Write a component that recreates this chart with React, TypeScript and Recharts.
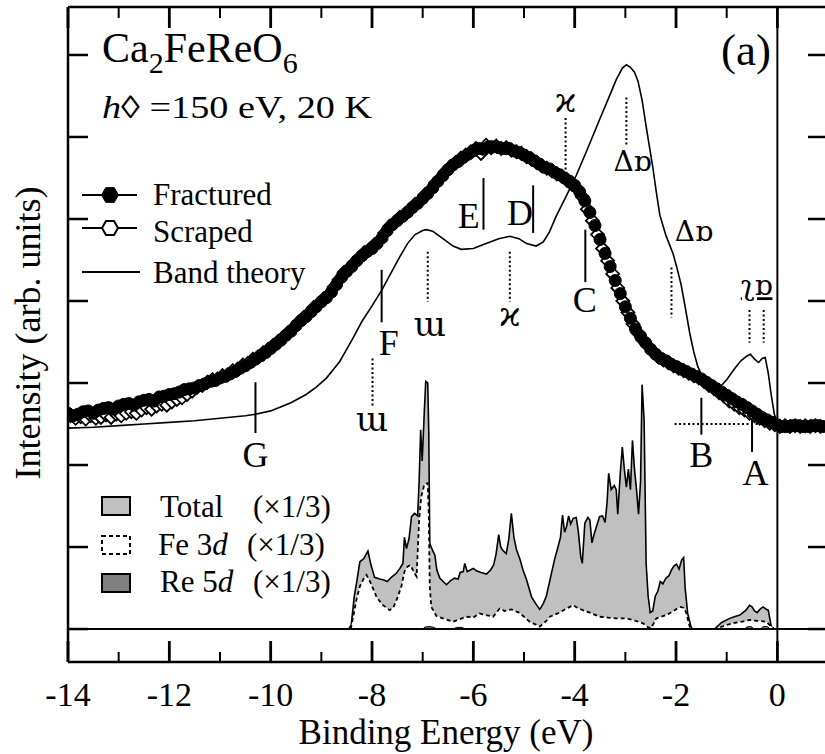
import React from "react";
import {
  ComposedChart,
  XAxis,
  YAxis,
  Line,
  Area,
  Scatter,
  ReferenceLine,
  ReferenceDot,
} from "recharts";

// ---------------- data ----------------
const xTickValues = [-14, -13, -12, -11, -10, -9, -8, -7, -6, -5, -4, -3, -2, -1, 0];
const yTickValues = [0, 1, 2, 3, 4, 5, 6, 7];

const fractured: [number, number][] = [
  [-14.0, 2.63], [-13.9, 2.6], [-13.8, 2.62], [-13.7, 2.65], [-13.6, 2.66], [-13.5, 2.63],
  [-13.4, 2.67], [-13.3, 2.69], [-13.2, 2.7], [-13.1, 2.68], [-13.0, 2.72], [-12.9, 2.74],
  [-12.8, 2.75], [-12.7, 2.73], [-12.6, 2.77], [-12.5, 2.79], [-12.4, 2.8], [-12.3, 2.78],
  [-12.2, 2.83], [-12.1, 2.84], [-12.0, 2.86], [-11.9, 2.87], [-11.8, 2.89], [-11.7, 2.92],
  [-11.6, 2.93], [-11.5, 2.94], [-11.4, 2.97], [-11.3, 2.99], [-11.2, 3.02], [-11.1, 3.03],
  [-11.0, 3.06], [-10.9, 3.08], [-10.8, 3.11], [-10.7, 3.14], [-10.6, 3.18], [-10.5, 3.21],
  [-10.4, 3.25], [-10.3, 3.29], [-10.2, 3.33], [-10.1, 3.37], [-10.0, 3.42], [-9.9, 3.47],
  [-9.8, 3.52], [-9.7, 3.58], [-9.6, 3.63], [-9.5, 3.7], [-9.4, 3.76], [-9.3, 3.81],
  [-9.2, 3.87], [-9.1, 3.93], [-9.0, 3.99], [-8.9, 4.04], [-8.8, 4.11], [-8.7, 4.2],
  [-8.6, 4.29], [-8.5, 4.36], [-8.4, 4.42], [-8.3, 4.49], [-8.2, 4.55], [-8.1, 4.6],
  [-8.0, 4.64], [-7.9, 4.7], [-7.8, 4.77], [-7.7, 4.86], [-7.6, 4.93], [-7.5, 4.98],
  [-7.4, 5.03], [-7.3, 5.08], [-7.2, 5.14], [-7.1, 5.19], [-7.0, 5.25], [-6.9, 5.31],
  [-6.8, 5.38], [-6.7, 5.46], [-6.6, 5.53], [-6.5, 5.6], [-6.4, 5.66], [-6.3, 5.7],
  [-6.2, 5.75], [-6.1, 5.79], [-6.0, 5.83], [-5.9, 5.86], [-5.8, 5.85], [-5.7, 5.88],
  [-5.6, 5.88], [-5.5, 5.87], [-5.4, 5.86], [-5.3, 5.86], [-5.2, 5.83], [-5.1, 5.81],
  [-5.0, 5.78], [-4.9, 5.75], [-4.8, 5.71], [-4.7, 5.67], [-4.6, 5.63], [-4.5, 5.61],
  [-4.4, 5.57], [-4.3, 5.54], [-4.2, 5.5], [-4.1, 5.46], [-4.0, 5.41], [-3.9, 5.33],
  [-3.8, 5.22], [-3.7, 5.08], [-3.6, 4.92], [-3.5, 4.75], [-3.4, 4.58], [-3.3, 4.42],
  [-3.2, 4.25], [-3.1, 4.09], [-3.0, 3.93], [-2.9, 3.79], [-2.8, 3.66], [-2.7, 3.57],
  [-2.6, 3.49], [-2.5, 3.41], [-2.4, 3.35], [-2.3, 3.3], [-2.2, 3.27], [-2.1, 3.23],
  [-2.0, 3.2], [-1.9, 3.17], [-1.8, 3.14], [-1.7, 3.11], [-1.6, 3.08], [-1.5, 3.05],
  [-1.4, 3.01], [-1.3, 2.97], [-1.2, 2.93], [-1.1, 2.89], [-1.0, 2.85], [-0.9, 2.81],
  [-0.8, 2.77], [-0.7, 2.74], [-0.6, 2.7], [-0.5, 2.66], [-0.4, 2.62], [-0.3, 2.58],
  [-0.2, 2.55], [-0.1, 2.52], [0.0, 2.49], [0.1, 2.47], [0.2, 2.47], [0.3, 2.48],
  [0.4, 2.48], [0.5, 2.47], [0.6, 2.47], [0.7, 2.48], [0.8, 2.48], [0.9, 2.47],
];

const scraped: [number, number][] = [
  [-13.95, 2.6], [-13.85, 2.57], [-13.75, 2.59], [-13.65, 2.56], [-13.55, 2.6], [-13.45, 2.57],
  [-13.35, 2.58], [-13.25, 2.61], [-13.15, 2.58], [-13.05, 2.62], [-12.95, 2.6], [-12.85, 2.63],
  [-12.75, 2.65], [-12.65, 2.63], [-12.55, 2.67], [-12.45, 2.7], [-12.35, 2.68], [-12.25, 2.72],
  [-12.15, 2.74], [-12.05, 2.73], [-11.95, 2.77], [-11.85, 2.8], [-11.75, 2.82], [-11.65, 2.86],
  [-11.55, 2.9], [-11.45, 2.95], [-11.35, 2.97], [-11.25, 3.01], [-11.15, 3.04], [-11.05, 3.05],
  [-10.95, 3.09], [-10.85, 3.1], [-10.75, 3.15], [-10.65, 3.17], [-10.55, 3.22], [-10.45, 3.24],
  [-10.35, 3.29], [-10.25, 3.32], [-10.15, 3.37], [-10.05, 3.41], [-9.95, 3.46], [-9.85, 3.51],
  [-9.75, 3.56], [-9.65, 3.62], [-9.55, 3.67], [-9.45, 3.74], [-9.35, 3.8], [-9.25, 3.85],
  [-9.15, 3.92], [-9.05, 3.97], [-8.95, 4.03], [-8.85, 4.08], [-8.75, 4.17], [-8.65, 4.26],
  [-8.55, 4.35], [-8.45, 4.4], [-8.35, 4.47], [-8.25, 4.53], [-8.15, 4.59], [-8.05, 4.63],
  [-7.95, 4.69], [-7.85, 4.74], [-7.75, 4.83], [-7.65, 4.91], [-7.55, 4.96], [-7.45, 5.02],
  [-7.35, 5.06], [-7.25, 5.12], [-7.15, 5.18], [-7.05, 5.22], [-6.95, 5.3], [-6.85, 5.35],
  [-6.75, 5.44], [-6.65, 5.5], [-6.55, 5.58], [-6.45, 5.64], [-6.35, 5.69], [-6.25, 5.74],
  [-6.15, 5.78], [-6.05, 5.82], [-5.95, 5.86], [-5.85, 5.8], [-5.75, 5.9], [-5.65, 5.87],
  [-5.55, 5.89], [-5.45, 5.86], [-5.35, 5.87], [-5.25, 5.84], [-5.15, 5.82], [-5.05, 5.8],
  [-4.95, 5.76], [-4.85, 5.73], [-4.75, 5.69], [-4.65, 5.65], [-4.55, 5.62], [-4.45, 5.59],
  [-4.35, 5.55], [-4.25, 5.52], [-4.15, 5.47], [-4.05, 5.42], [-3.95, 5.37], [-3.85, 5.27],
  [-3.75, 5.12], [-3.65, 4.98], [-3.55, 4.81], [-3.45, 4.64], [-3.35, 4.49], [-3.25, 4.33],
  [-3.15, 4.16], [-3.05, 4.0], [-2.95, 3.86], [-2.85, 3.72], [-2.75, 3.61], [-2.65, 3.52],
  [-2.55, 3.45], [-2.45, 3.38], [-2.35, 3.32], [-2.25, 3.28], [-2.15, 3.25], [-2.05, 3.21],
  [-1.95, 3.18], [-1.85, 3.15], [-1.75, 3.12], [-1.65, 3.09], [-1.55, 3.06], [-1.45, 3.02],
  [-1.35, 2.97], [-1.25, 2.93], [-1.15, 2.88], [-1.05, 2.84], [-0.95, 2.78], [-0.85, 2.74],
  [-0.75, 2.7], [-0.65, 2.67], [-0.55, 2.63], [-0.45, 2.6], [-0.35, 2.57], [-0.25, 2.54],
  [-0.15, 2.51], [-0.05, 2.49], [0.05, 2.47], [0.15, 2.48], [0.25, 2.47], [0.35, 2.48],
  [0.45, 2.47], [0.55, 2.48], [0.65, 2.47], [0.75, 2.48], [0.85, 2.47],
];

const bandTheory: [number, number][] = [
  [-14, 2.45], [-13.5, 2.46], [-13, 2.48], [-12.5, 2.5], [-12, 2.52], [-11.5, 2.54],
  [-11, 2.57], [-10.5, 2.6], [-10.3, 2.62], [-10, 2.66], [-9.6, 2.76], [-9.3, 2.86],
  [-9.1, 2.95], [-8.9, 3.06], [-8.64, 3.26], [-8.4, 3.52], [-8.2, 3.75], [-8.0, 3.94],
  [-7.81, 4.13], [-7.6, 4.37], [-7.45, 4.54], [-7.3, 4.7], [-7.15, 4.81], [-7.0, 4.86],
  [-6.93, 4.87], [-6.8, 4.85], [-6.6, 4.76], [-6.4, 4.67], [-6.24, 4.63], [-6.0, 4.64],
  [-5.8, 4.69], [-5.5, 4.76], [-5.28, 4.79], [-5.1, 4.76], [-4.95, 4.7], [-4.76, 4.67],
  [-4.62, 4.72], [-4.5, 4.84], [-4.36, 5.04], [-4.15, 5.3], [-3.97, 5.53], [-3.75, 5.85],
  [-3.51, 6.21], [-3.3, 6.52], [-3.18, 6.7], [-3.06, 6.84], [-2.98, 6.88], [-2.9, 6.85],
  [-2.82, 6.79], [-2.75, 6.68], [-2.67, 6.45], [-2.59, 6.13], [-2.53, 5.9], [-2.46, 5.64],
  [-2.39, 5.33], [-2.32, 5.05], [-2.2, 4.8], [-2.06, 4.58], [-1.98, 4.4], [-1.9, 4.2],
  [-1.82, 3.93], [-1.73, 3.61], [-1.65, 3.38], [-1.57, 3.2], [-1.45, 3.04], [-1.3, 2.95],
  [-1.15, 2.94], [-1.0, 3.04], [-0.85, 3.17], [-0.72, 3.27], [-0.6, 3.33], [-0.53, 3.35],
  [-0.45, 3.29], [-0.37, 3.25], [-0.3, 3.3], [-0.24, 3.31], [-0.18, 3.12], [-0.12, 2.85],
  [-0.06, 2.62], [0.0, 2.52], [0.2, 2.48], [0.5, 2.48], [0.94, 2.48],
];

const dosTotal: [number, number][] = [
  [-8.46, 0], [-8.41, 0.05], [-8.35, 0.4], [-8.3, 0.58], [-8.24, 0.82], [-8.16, 0.86],
  [-8.08, 0.95], [-8.02, 0.78], [-7.95, 0.63], [-7.85, 0.61], [-7.78, 0.6], [-7.7, 0.58],
  [-7.62, 0.63], [-7.52, 0.68], [-7.45, 0.74], [-7.39, 0.8], [-7.36, 1.12], [-7.32, 0.98],
  [-7.27, 1.1], [-7.22, 1.37], [-7.16, 1.41], [-7.1, 1.38], [-7.07, 1.8], [-7.04, 2.43],
  [-7.01, 2.05], [-6.97, 2.62], [-6.94, 3.02], [-6.9, 3.0], [-6.88, 2.4], [-6.86, 1.05],
  [-6.82, 0.98], [-6.76, 0.9], [-6.72, 0.72], [-6.66, 0.62], [-6.58, 0.57], [-6.53, 0.54],
  [-6.45, 0.59], [-6.37, 0.62], [-6.3, 0.61], [-6.26, 0.69], [-6.2, 0.7], [-6.17, 0.8],
  [-6.12, 0.7], [-6.06, 0.72], [-6.0, 0.74], [-5.94, 0.71], [-5.85, 0.69], [-5.74, 0.67],
  [-5.66, 0.72], [-5.6, 0.78], [-5.55, 0.92], [-5.5, 1.15], [-5.46, 1.0], [-5.42, 0.96],
  [-5.35, 0.92], [-5.3, 1.1], [-5.25, 1.41], [-5.2, 1.12], [-5.15, 0.97], [-5.08, 0.85],
  [-5.02, 0.72], [-4.95, 0.6], [-4.85, 0.39], [-4.76, 0.3], [-4.69, 0.24], [-4.62, 0.31],
  [-4.56, 0.4], [-4.48, 0.62], [-4.4, 0.84], [-4.33, 1.0], [-4.28, 1.12], [-4.24, 1.39],
  [-4.2, 1.18], [-4.16, 1.25], [-4.12, 1.38], [-4.08, 1.28], [-4.03, 1.35], [-3.97, 1.36],
  [-3.93, 1.2], [-3.88, 0.88], [-3.85, 0.8], [-3.8, 1.29], [-3.74, 1.36], [-3.7, 1.33],
  [-3.66, 1.05], [-3.62, 1.15], [-3.57, 1.25], [-3.51, 1.37], [-3.45, 1.38], [-3.4, 1.3],
  [-3.36, 1.55], [-3.33, 1.9], [-3.28, 1.7], [-3.22, 1.75], [-3.18, 1.7], [-3.15, 1.4],
  [-3.1, 1.9], [-3.06, 2.22], [-3.02, 1.95], [-2.98, 1.73], [-2.94, 1.95], [-2.9, 1.7],
  [-2.86, 2.3], [-2.82, 1.95], [-2.78, 1.7], [-2.74, 1.4], [-2.7, 1.8], [-2.67, 2.98],
  [-2.63, 2.55], [-2.59, 0.8], [-2.55, 0.4], [-2.51, 0.2], [-2.46, 0.22], [-2.41, 0.4],
  [-2.36, 0.46], [-2.31, 0.58], [-2.26, 0.55], [-2.2, 0.62], [-2.14, 0.65], [-2.09, 0.72],
  [-2.04, 0.77], [-1.99, 0.79], [-1.94, 0.73], [-1.89, 0.84], [-1.85, 0.87], [-1.82, 0.5],
  [-1.77, 0.19], [-1.71, 0.04], [-1.68, 0], [-1.24, 0], [-1.1, 0.08], [-0.94, 0.13],
  [-0.85, 0.15], [-0.74, 0.17], [-0.62, 0.23], [-0.55, 0.29], [-0.5, 0.27], [-0.45, 0.22],
  [-0.4, 0.2], [-0.33, 0.25], [-0.28, 0.27], [-0.22, 0.24], [-0.18, 0.23], [-0.12, 0.03],
  [-0.06, 0],
];

const dosFe3d: [number, number][] = [
  [-8.42, 0], [-8.38, 0.12], [-8.31, 0.35], [-8.24, 0.52], [-8.16, 0.62], [-8.11, 0.66],
  [-8.04, 0.58], [-7.97, 0.48], [-7.91, 0.39], [-7.8, 0.3], [-7.65, 0.23], [-7.58, 0.26],
  [-7.5, 0.38], [-7.42, 0.52], [-7.36, 0.7], [-7.3, 0.76], [-7.24, 0.78], [-7.18, 0.7],
  [-7.12, 0.64], [-7.07, 1.33], [-7.03, 1.61], [-6.97, 1.76], [-6.9, 1.78], [-6.88, 1.4],
  [-6.86, 0.52], [-6.83, 0.27], [-6.73, 0.16], [-6.6, 0.13], [-6.4, 0.09], [-6.14, 0.15],
  [-6.0, 0.14], [-5.88, 0.19], [-5.75, 0.17], [-5.61, 0.15], [-5.48, 0.25], [-5.38, 0.22],
  [-5.25, 0.24], [-5.1, 0.2], [-5.0, 0.15], [-4.89, 0.09], [-4.69, 0.03], [-4.56, 0.1],
  [-4.49, 0.15], [-4.3, 0.2], [-4.16, 0.25], [-4.03, 0.29], [-3.95, 0.26], [-3.84, 0.23],
  [-3.7, 0.2], [-3.51, 0.15], [-3.35, 0.14], [-3.18, 0.13], [-3.0, 0.13], [-2.85, 0.11],
  [-2.65, 0.07], [-2.55, 0.02], [-2.5, 0.01], [-2.45, 0.06], [-2.39, 0.13], [-2.19, 0.17],
  [-2.05, 0.22], [-1.93, 0.27], [-1.85, 0.26], [-1.8, 0.2], [-1.73, 0.03], [-1.7, 0],
  [-1.22, 0], [-1.05, 0.04], [-0.88, 0.07], [-0.7, 0.09], [-0.55, 0.11], [-0.4, 0.1],
  [-0.22, 0.09], [-0.12, 0.03], [-0.06, 0],
];

const dosRe5d: [number, number][] = [
  [-7.0, 0], [-6.95, 0.025], [-6.85, 0.03], [-6.78, 0.02], [-6.72, 0], [-6.4, 0],
  [-6.33, 0.02], [-6.22, 0.02], [-6.17, 0], [-0.65, 0], [-0.6, 0.025], [-0.52, 0.03],
  [-0.46, 0], [-0.33, 0], [-0.28, 0.03], [-0.2, 0.03], [-0.14, 0],
];

// feature labels and their solid marker lines
const featureNames = ["G", "F", "E", "D", "C", "B", "A"];
const featureLabelPos: [number, number][] = [
  [-10.3, 1.98], [-7.67, 3.34], [-6.09, 4.89], [-5.08, 4.93], [-3.8, 3.87], [-1.5, 1.98], [-0.43, 1.76],
];
const featureLines: [number, number, number][] = [
  [-10.3, 3.01, 2.39], [-7.81, 4.38, 3.74], [-5.8, 5.5, 4.87], [-4.82, 5.41, 4.83],
  [-3.79, 4.87, 4.23], [-1.5, 2.82, 2.37], [-0.5, 2.55, 2.16],
];

// theory peak markers (dotted)
const theoryMarkLines: [number, number, number][] = [
  [-7.99, 3.3, 2.7], [-6.9, 4.6, 3.99], [-5.28, 4.6, 3.99], [-4.18, 6.23, 5.6],
  [-2.98, 6.48, 5.9], [-2.09, 4.41, 3.8], [-0.55, 3.89, 3.49], [-0.27, 3.89, 3.49],
];
const theoryMarkNames = ["ɯ", "ɯ", "ϰ", "ϰ", "Δɒ", "Δɒ", "ʅɒ"];
const theoryMarkPos: [number, number][] = [
  [-8.0, 2.41], [-6.86, 3.57], [-5.28, 3.69], [-4.18, 6.31], [-2.86, 5.58], [-1.65, 4.73], [-0.41, 4.07],
];
const backgroundLine: [number, number, number] = [-2.03, -0.3, 2.5];

// ---------------- layout ----------------
const W = 825;
const H = 754;
const PLOT_TOP = 7;
const PLOT_BOTTOM = 662;
const PLOT_LEFT = 68;
const X_DOMAIN: [number, number] = [-14, 0.94];
const Y_DOMAIN: [number, number] = [-0.402, 7.585];
const SERIF = "'Liberation Serif','Times New Roman',Times,serif";
const GLYPH = "'DejaVu Serif','Liberation Serif',serif";

const toPts = (arr: [number, number][]) => arr.map(([x, y]) => ({ x, y }));

function XTick(props: any) {
  const { x, payload } = props;
  const v = payload.value as number;
  const major = Math.abs(v % 2) < 1e-6;
  const sw = major ? 2.8 : 2;
  return (
    <g>
      <line x1={x} x2={x} y1={PLOT_BOTTOM} y2={PLOT_BOTTOM - (major ? 21 : 10)} stroke="#000" strokeWidth={sw} />
      <line x1={x} x2={x} y1={PLOT_TOP} y2={PLOT_TOP + (major ? 21 : 11)} stroke="#000" strokeWidth={sw} />
      {major && (
        <text x={x} y={706} textAnchor="middle" fontSize={34} fontFamily={SERIF} fill="#000">
          {v < 0 ? `-${Math.abs(v)}` : `${v}`}
        </text>
      )}
    </g>
  );
}

function YTick(props: any) {
  const { y } = props;
  return (
    <g>
      <line x1={PLOT_LEFT} x2={PLOT_LEFT + 20} y1={y} y2={y} stroke="#000" strokeWidth={2.5} />
      <line x1={W - 17} x2={W + 3} y1={y} y2={y} stroke="#000" strokeWidth={2.5} />
    </g>
  );
}

const FracDot = (p: any) =>
  p.cx == null ? null : <circle cx={p.cx} cy={p.cy} r={6} fill="#000" stroke="#000" strokeWidth={1} />;
const ScrapDot = (p: any) =>
  p.cx == null ? null : (
    <polygon
      points={`${p.cx},${p.cy - 6.5} ${p.cx + 6.5},${p.cy} ${p.cx},${p.cy + 6.5} ${p.cx - 6.5},${p.cy}`}
      fill="#fff"
      stroke="#000"
      strokeWidth={1.8}
    />
  );

const labelShape = (text: string, size: number, family: string, underline = false) => (p: any) =>
  (
    <text
      x={p.cx}
      y={p.cy}
      textAnchor="middle"
      fontSize={size}
      fontFamily={family}
      fill="#000"
      style={underline ? { textDecoration: "underline" } : undefined}
    >
      {text}
    </text>
  );

function hexPoints(cx: number, cy: number, r: number) {
  const pts: string[] = [];
  for (let i = 0; i < 6; i++) {
    const a = (Math.PI / 3) * i;
    pts.push(`${cx + r * Math.cos(a)},${cy + r * Math.sin(a)}`);
  }
  return pts.join(" ");
}

const markSize = (name: string) => (name === "ɯ" || name === "ϰ" ? 34 : 28);

export default function App() {
  return (
    <div style={{ position: "absolute", left: 0, top: 0, width: W, height: H, background: "#fff" }}>
      <ComposedChart width={W} height={H} margin={{ top: PLOT_TOP, right: 0, bottom: 0, left: 0 }}>
        <XAxis
          type="number"
          dataKey="x"
          domain={X_DOMAIN}
          allowDataOverflow
          ticks={xTickValues}
          interval={0}
          height={H - PLOT_BOTTOM}
          tickLine={false}
          axisLine={{ stroke: "#000", strokeWidth: 2.5 }}
          tick={<XTick />}
        />
        <YAxis
          type="number"
          dataKey="y"
          domain={Y_DOMAIN}
          allowDataOverflow
          ticks={yTickValues}
          interval={0}
          width={PLOT_LEFT}
          tickLine={false}
          axisLine={{ stroke: "#000", strokeWidth: 2.5 }}
          tick={<YTick />}
        />
        <ReferenceLine y={Y_DOMAIN[1]} stroke="#000" strokeWidth={2.5} ifOverflow="visible" />

        <Area data={toPts(dosTotal)} dataKey="y" type="linear" fill="#c0c0c0" fillOpacity={1} stroke="#000" strokeWidth={1.6} isAnimationActive={false} />
        <Area data={toPts(dosFe3d)} dataKey="y" type="linear" fill="#fff" fillOpacity={1} stroke="#000" strokeWidth={1.8} strokeDasharray="4 3" isAnimationActive={false} />
        <Area data={toPts(dosRe5d)} dataKey="y" type="linear" fill="#808080" fillOpacity={1} stroke="#000" strokeWidth={1} isAnimationActive={false} />

        <ReferenceLine y={0} stroke="#000" strokeWidth={2} />
        <ReferenceLine x={0} stroke="#000" strokeWidth={2} />

        <Line data={toPts(bandTheory)} dataKey="y" type="linear" stroke="#000" strokeWidth={1.6} dot={false} isAnimationActive={false} />

        <Scatter data={toPts(scraped)} dataKey="y" shape={ScrapDot} isAnimationActive={false} />
        <Scatter data={toPts(fractured)} dataKey="y" shape={FracDot} isAnimationActive={false} />

        {featureLines.map(([x, y1, y2], i) => (
          <ReferenceLine key={`fl${i}`} segment={[{ x, y: y1 }, { x, y: y2 }]} stroke="#000" strokeWidth={2} />
        ))}
        {featureLabelPos.map(([x, y], i) => (
          <ReferenceDot key={`fn${i}`} x={x} y={y} r={0} shape={labelShape(featureNames[i], 36, SERIF)} />
        ))}
        {theoryMarkLines.map(([x, y1, y2], i) => (
          <ReferenceLine key={`tl${i}`} segment={[{ x, y: y1 }, { x, y: y2 }]} stroke="#000" strokeWidth={2} strokeDasharray="2 2.5" />
        ))}
        {theoryMarkPos.map(([x, y], i) => (
          <ReferenceDot
            key={`tn${i}`}
            x={x}
            y={y}
            r={0}
            shape={labelShape(theoryMarkNames[i], markSize(theoryMarkNames[i]), GLYPH, i === 6)}
          />
        ))}
        <ReferenceLine
          segment={[{ x: backgroundLine[0], y: backgroundLine[2] }, { x: backgroundLine[1], y: backgroundLine[2] }]}
          stroke="#000"
          strokeWidth={2}
          strokeDasharray="2 2.5"
        />
      </ComposedChart>

      <svg width={W} height={H} style={{ position: "absolute", left: 0, top: 0, pointerEvents: "none" }}>
        {/* title */}
        <text x={102} y={62} fontFamily={SERIF} fontSize={42} fill="#000">
          Ca<tspan fontSize={30} dy={11}>2</tspan>
          <tspan dy={-11}>FeReO</tspan>
          <tspan fontSize={30} dy={11}>6</tspan>
        </text>
        <text x={102} y={118} fontFamily={SERIF} fontSize={32} fill="#000" textLength={270} lengthAdjust="spacingAndGlyphs">
          <tspan fontStyle="italic">h</tspan>◊ =150 eV, 20 K
        </text>
        <text x={771} y={65} fontFamily={SERIF} fontSize={45} textAnchor="end" fill="#000">
          (a)
        </text>

        {/* upper legend */}
        <line x1={82} x2={137} y1={195} y2={195} stroke="#000" strokeWidth={2} />
        <polygon points={hexPoints(110, 195, 8.5)} fill="#000" stroke="#000" strokeWidth={1} />
        <text x={153} y={205} fontFamily={SERIF} fontSize={31} fill="#000">Fractured</text>
        <line x1={82} x2={137} y1={228} y2={228} stroke="#000" strokeWidth={2} />
        <polygon points={hexPoints(110, 228, 8)} fill="#fff" stroke="#000" strokeWidth={2} />
        <text x={153} y={242} fontFamily={SERIF} fontSize={31} fill="#000">Scraped</text>
        <line x1={82} x2={140} y1={272} y2={272} stroke="#000" strokeWidth={2} />
        <text x={153} y={283} fontFamily={SERIF} fontSize={31} fill="#000">Band theory</text>

        {/* lower legend */}
        <rect x={102} y={497} width={28} height={18} fill="#c0c0c0" stroke="#000" strokeWidth={2} />
        <text x={160} y={517} fontFamily={SERIF} fontSize={31} fill="#000">Total</text>
        <text x={253} y={517} fontFamily={SERIF} fontSize={31} fill="#000">(×1/3)</text>
        <rect x={102} y={536} width={28} height={18} fill="#fff" stroke="#000" strokeWidth={2} strokeDasharray="4 3" />
        <text x={158} y={555} fontFamily={SERIF} fontSize={31} fill="#000">
          Fe 3<tspan fontStyle="italic">d</tspan>
        </text>
        <text x={247} y={555} fontFamily={SERIF} fontSize={31} fill="#000">(×1/3)</text>
        <rect x={102} y={574} width={28} height={18} fill="#808080" stroke="#000" strokeWidth={2} />
        <text x={160} y={592} fontFamily={SERIF} fontSize={31} fill="#000">
          Re 5<tspan fontStyle="italic">d</tspan>
        </text>
        <text x={253} y={592} fontFamily={SERIF} fontSize={31} fill="#000">(×1/3)</text>

        {/* axis titles */}
        <text x={446} y={744} fontFamily={SERIF} fontSize={35} textAnchor="middle" fill="#000">
          Binding Energy (eV)
        </text>
        <text x={40} y={333} fontFamily={SERIF} fontSize={36} textAnchor="middle" fill="#000" transform="rotate(-90 40 333)">
          Intensity (arb. units)
        </text>
      </svg>
    </div>
  );
}
